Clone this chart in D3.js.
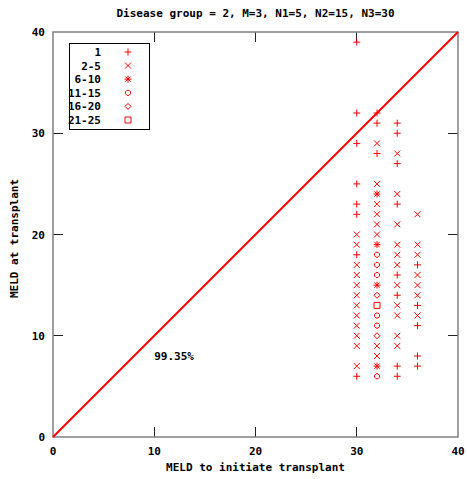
<!DOCTYPE html>
<html>
<head>
<meta charset="utf-8">
<script src="https://cdn.jsdelivr.net/npm/d3@7"></script>
<style>
  html, body { margin: 0; padding: 0; background: #fff; }
  svg text { font-family: "DejaVu Sans Mono", "Liberation Mono", monospace; font-weight: bold; font-size: 11px; fill: #000; }
</style>
</head>
<body>
<svg id="chart" width="467" height="479"></svg>
<script>
// Chart text
const titleText = "Disease group = 2, M=3, N1=5, N2=15, N3=30";
const xLabelText = "MELD to initiate transplant";
const yLabelText = "MELD at transplant";
const annotationText = "99.35%";
const annotationPos = [10, 8];

// Axis ticks
const xTicks = [0, 10, 20, 30, 40];
const yTicks = [0, 10, 20, 30, 40];

// Legend categories (number of patients sharing the same point)
const groupLabels = ["1", "2-5", "6-10", "11-15", "16-20", "21-25"];

// Points per category: [MELD to initiate, MELD at transplant]
const group1 = [
  [30,39],[30,32],[30,29],[30,25],[30,23],[30,22],[30,18],[30,6],
  [32,32],[32,31],[32,28],
  [34,31],[34,30],[34,27],[34,23],[34,16],[34,14],[34,7],[34,6],
  [36,17],[36,13],[36,11],[36,8],[36,7]
];
const group2to5 = [
  [30,20],[30,19],[30,17],[30,16],[30,15],[30,14],[30,13],[30,12],[30,11],[30,10],[30,9],[30,7],
  [32,29],[32,25],[32,23],[32,22],[32,21],[32,20],[32,9],[32,8],
  [34,28],[34,24],[34,21],[34,19],[34,18],[34,17],[34,15],[34,13],[34,12],[34,10],[34,9],
  [36,22],[36,19],[36,18],[36,16],[36,15],[36,14],[36,12]
];
const group6to10 = [[32,24],[32,19],[32,15],[32,7]];
const group11to15 = [[32,18],[32,17],[32,16],[32,12],[32,11],[32,6]];
const group16to20 = [[32,14],[32,10]];
const group21to25 = [[32,13]];
const groupPoints = [group1, group2to5, group6to10, group11to15, group16to20, group21to25];

// Point symbols, drawn as small paths centred on the point
const symbolPaths = [
  "M-3.5,0H3.5M0,-3.5V3.5",
  "M-3,-3L3,3M-3,3L3,-3",
  "M-3.5,0H3.5M0,-3.5V3.5M-2.6,-2.6L2.6,2.6M-2.6,2.6L2.6,-2.6",
  "M-1,-2.5H1L2.5,-1V1L1,2.5H-1L-2.5,1V-1Z",
  "M0,-3L3,0L0,3L-3,0Z",
  "M-3,-3H3V3H-3Z"
];

const red = "#ff0000";
const svg = d3.select("#chart");
const margin = { left: 53, right: 9, top: 32, bottom: 42 };
const W = 467, H = 479;

const x = d3.scaleLinear().domain([0, 40]).range([margin.left, W - margin.right]);
const y = d3.scaleLinear().domain([0, 40]).range([H - margin.bottom, margin.top]);

svg.append("rect").attr("width", W).attr("height", H).attr("fill", "#fff");

// Inner ticks on all four sides
const tickLen = 10;
const ticks = svg.append("g").attr("stroke", "#222").attr("stroke-width", 1).attr("shape-rendering", "crispEdges");
xTicks.slice(1, -1).forEach(t => {
  ticks.append("line").attr("x1", x(t)).attr("x2", x(t)).attr("y1", y(0)).attr("y2", y(0) - tickLen);
  ticks.append("line").attr("x1", x(t)).attr("x2", x(t)).attr("y1", y(40)).attr("y2", y(40) + tickLen);
});
yTicks.slice(1, -1).forEach(t => {
  ticks.append("line").attr("x1", x(0)).attr("x2", x(0) + tickLen).attr("y1", y(t)).attr("y2", y(t));
  ticks.append("line").attr("x1", x(40)).attr("x2", x(40) - tickLen).attr("y1", y(t)).attr("y2", y(t));
});

// Frame
svg.append("rect")
  .attr("x", x(0)).attr("y", y(40))
  .attr("width", x(40) - x(0)).attr("height", y(0) - y(40))
  .attr("fill", "none").attr("stroke", "#808080").attr("stroke-width", 1.5);

// Tick labels
svg.append("g").selectAll("text").data(xTicks).join("text")
  .attr("x", d => x(d)).attr("y", y(0) + 18)
  .attr("text-anchor", "middle").text(d => d);
svg.append("g").selectAll("text").data(yTicks).join("text")
  .attr("x", x(0) - 8).attr("y", d => y(d) + 4)
  .attr("text-anchor", "end").text(d => d);

// Title and axis labels
svg.append("text").attr("x", (x(0) + x(40)) / 2).attr("y", 17).attr("text-anchor", "middle").text(titleText);
svg.append("text").attr("x", (x(0) + x(40)) / 2).attr("y", 471).attr("text-anchor", "middle").text(xLabelText);
svg.append("text").attr("transform", `translate(18,${(y(0) + y(40)) / 2 + 4}) rotate(-90)`)
  .attr("text-anchor", "middle").text(yLabelText);

// Diagonal reference line
svg.append("line")
  .attr("x1", x(0)).attr("y1", y(0)).attr("x2", x(40)).attr("y2", y(40))
  .attr("stroke", red).attr("stroke-width", 2);

// Data points
groupPoints.forEach((pts, gi) => {
  svg.append("g").selectAll("path").data(pts).join("path")
    .attr("transform", d => `translate(${x(d[0])},${y(d[1])})`)
    .attr("d", symbolPaths[gi])
    .attr("fill", "none").attr("stroke", red).attr("stroke-width", 1);
});

// Annotation
svg.append("text").attr("x", x(annotationPos[0])).attr("y", y(annotationPos[1]) + 4).text(annotationText);

// Legend
const legend = svg.append("g");
legend.append("rect").attr("x", 69.5).attr("y", 43.5).attr("width", 80).attr("height", 86)
  .attr("fill", "#fff").attr("stroke", "#000").attr("stroke-width", 1);
groupLabels.forEach((lab, i) => {
  const ly = 52 + i * 13.6;
  legend.append("text").attr("x", 101).attr("y", ly + 4).attr("text-anchor", "end").text(lab);
  legend.append("path").attr("transform", `translate(128,${ly})`).attr("d", symbolPaths[i])
    .attr("fill", "none").attr("stroke", red).attr("stroke-width", 1);
});
</script>
</body>
</html>
